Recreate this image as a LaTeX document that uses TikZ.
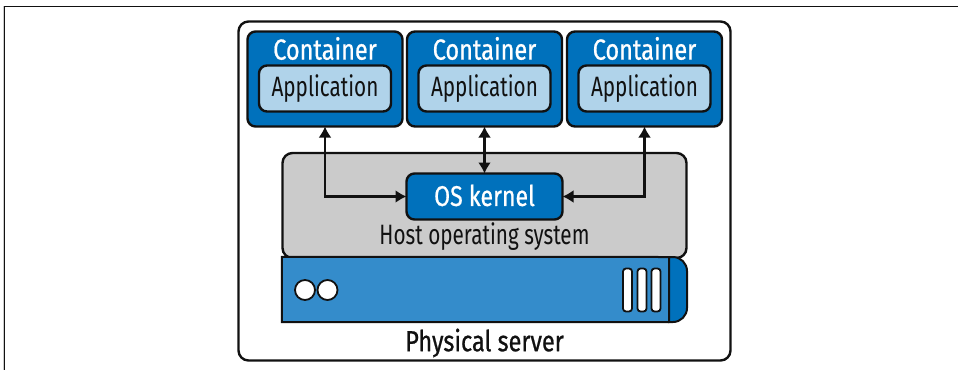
\documentclass[tikz,border=0pt]{standalone}
\usepackage{fontspec}
\setmainfont[FakeStretch=0.74]{Fira Sans}
\newfontfamily\heavyfont[FakeStretch=0.81,FakeBold=0.7]{Fira Sans}
\usetikzlibrary{arrows.meta,calc}
\definecolor{cblue}{HTML}{0071BC}
\definecolor{lblue}{HTML}{B0D3EA}
\definecolor{sblue}{HTML}{348CCB}
\definecolor{gbox}{HTML}{CBCBCB}
\definecolor{ink}{HTML}{111111}
\tikzset{
  x=1pt,y=-1pt,
  base/.style={draw=ink,line width=2.4pt,rounded corners=8pt,inner sep=0pt,outer sep=0pt,text=ink},
  contbox/.style={base,fill=cblue,minimum width=155pt,minimum height=95pt},
  appbox/.style={base,fill=lblue,minimum width=132pt,minimum height=46pt,font=\fontsize{28}{30}\selectfont},
  kernelbox/.style={base,fill=cblue,minimum width=156pt,minimum height=46pt,text=white,font=\fontsize{28.5}{30}\heavyfont},
  label/.style={inner sep=0pt,text=ink,font=\fontsize{28}{30}\selectfont},
  contlabel/.style={inner sep=0pt,text=white,font=\fontsize{29}{30}\heavyfont},
  link/.style={draw=ink,line width=2.4pt,{Latex[length=11pt,width=13pt]}-{Latex[length=11pt,width=13pt]}},
  led/.style={circle,draw=ink,line width=1.8pt,fill=white,minimum size=20pt,inner sep=0pt},
  slot/.style={draw=ink,line width=1.8pt,fill=white,rounded corners=3pt,inner sep=0pt,minimum width=9pt,minimum height=43pt},
}
\begin{document}
\begin{tikzpicture}
\useasboundingbox (0,0) rectangle (958,370);
\fill[white] (0,0) rectangle (958,370);
% page frame
\fill[gbox] (2.5,6) rectangle (4,370);
\draw[ink,line width=1.2pt] (958,6.5) -- (4.5,6.5) -- (4.5,370);
% outer box
\node[base,fill=white,minimum width=492pt,minimum height=339pt,rounded corners=10pt] (outer) at (484.5,191) {};
% containers
\node[contbox] (c1) at (325,79) {};
\node[contbox] (c2) at (484.5,79) {};
\node[contbox] (c3) at (644.5,79) {};
\node[contlabel] (t1) at (325,48.5) {Container};
\node[contlabel] (t2) at (484.5,48.5) {Container};
\node[contlabel] (t3) at (644.5,48.5) {Container};
\node[appbox] (a1) at (325,88.5) {\raisebox{-4pt}{Application}};
\node[appbox] (a2) at (484.5,88.5) {\raisebox{-4pt}{Application}};
\node[appbox] (a3) at (644.5,88.5) {\raisebox{-4pt}{Application}};
% host OS
\node[base,fill=gbox,minimum width=404pt,minimum height=105pt,rounded corners=10pt] (host) at (484.5,205.5) {};
\node[label] (hostlabel) at (484.5,237) {Host operating system};
\node[kernelbox] (kernel) at (484.5,196.5) {\raisebox{2.5pt}{OS kernel}};
% server
\node[inner sep=0pt,minimum width=405pt,minimum height=65pt] (server) at (484.5,289.5) {};
\fill[sblue] (server.north west) -- (669,257) -- (669,322) -- (server.south west) -- cycle;
\path[fill=cblue,draw=ink,line width=2pt] (669,257) -- (673,257) .. controls (680.7,257) and (687,263.3) .. (687,271) -- (687,308) .. controls (687,315.7) and (680.7,322) .. (673,322) -- (669,322) -- cycle;
\draw[ink,line width=2pt] (669,322) -- (server.south west) -- (server.north west) -- (669,257);
\node[led] (l1) at (305,290) {};
\node[led] (l2) at (327.5,290) {};
\node[slot] (s1) at (627.5,290) {};
\node[slot] (s2) at (642,290) {};
\node[slot] (s3) at (656,290) {};
\node[inner sep=0pt,text=ink,font=\fontsize{29}{32}\heavyfont] (phys) at (484.5,343) {Physical server};
% connectors
\draw[link] (c1.south) |- (kernel.west);
\draw[link] (c2.south) -- (kernel.north);
\draw[link] (c3.south) |- (kernel.east);
\end{tikzpicture}
\end{document}
